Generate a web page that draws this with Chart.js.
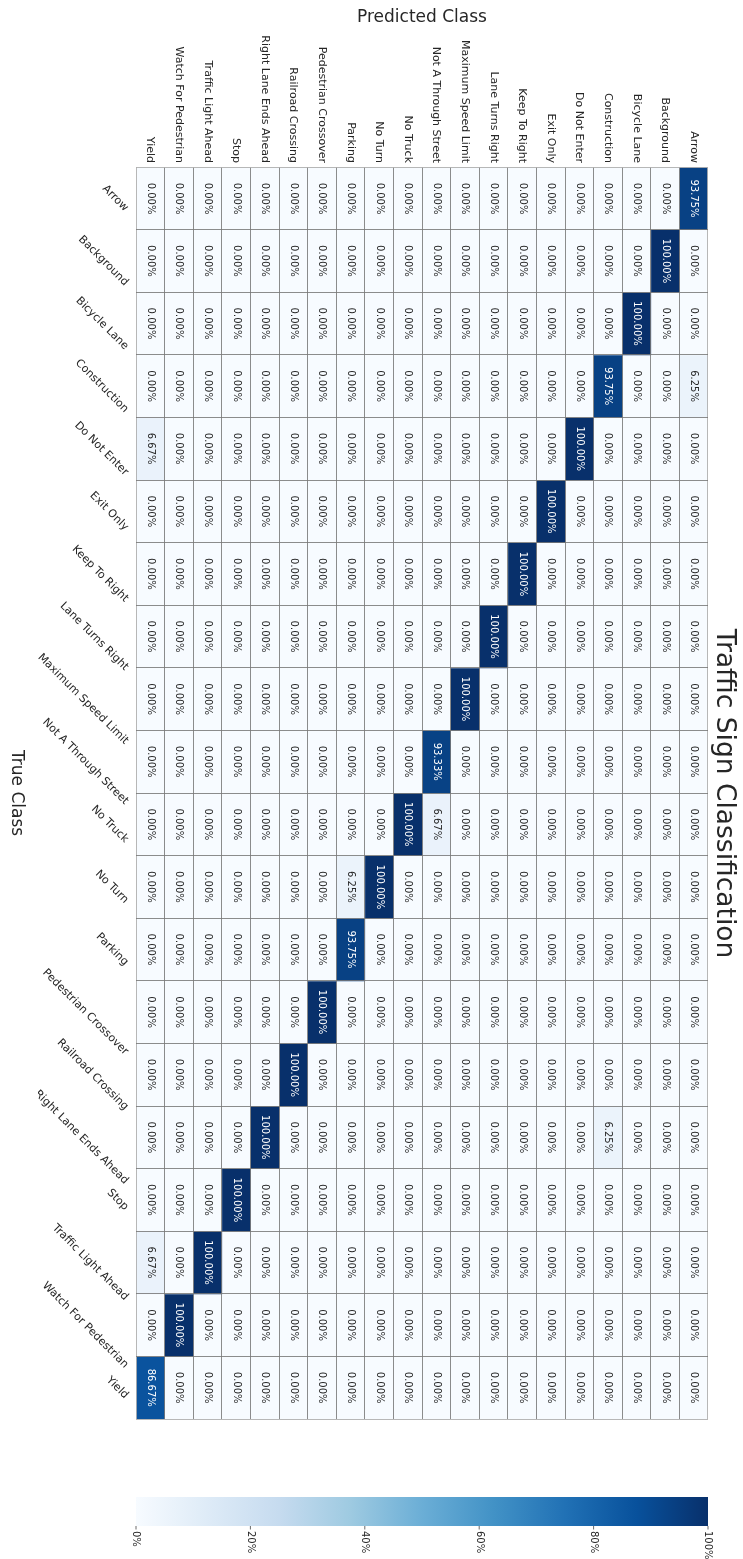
<!DOCTYPE html>
<html>
<head>
<meta charset="utf-8">
<script src="https://cdn.jsdelivr.net/npm/chart.js@4.4.1/dist/chart.umd.min.js"></script>
<style>
  html, body { margin: 0; padding: 0; background: #ffffff; }
  #wrap { position: relative; width: 743px; height: 1559px; overflow: hidden; }
  canvas { position: absolute; left: 0; }
</style>
</head>
<body>
<div id="wrap">
  <canvas id="cm" width="743" height="1480" style="top:0px"></canvas>
  <canvas id="cb" width="743" height="79" style="top:1480px"></canvas>
</div>
<script>
// ---------- DATA ----------
const classes = ['Arrow', 'Background', 'Bicycle Lane', 'Construction', 'Do Not Enter', 'Exit Only',
  'Keep To Right', 'Lane Turns Right', 'Maximum Speed Limit', 'Not A Through Street', 'No Truck',
  'No Turn', 'Parking', 'Pedestrian Crossover', 'Railroad Crossing', 'Right Lane Ends Ahead',
  'Stop', 'Traffic Light Ahead', 'Watch For Pedestrian', 'Yield'];

// one row per true class; values per predicted class (same order as classes), in %
const rowArrow              = [93.75, 0, 0, 0, 0, 0, 0, 0, 0, 0, 0, 0, 0, 0, 0, 0, 0, 0, 0, 0];
const rowBackground         = [0, 100, 0, 0, 0, 0, 0, 0, 0, 0, 0, 0, 0, 0, 0, 0, 0, 0, 0, 0];
const rowBicycleLane        = [0, 0, 100, 0, 0, 0, 0, 0, 0, 0, 0, 0, 0, 0, 0, 0, 0, 0, 0, 0];
const rowConstruction       = [6.25, 0, 0, 93.75, 0, 0, 0, 0, 0, 0, 0, 0, 0, 0, 0, 0, 0, 0, 0, 0];
const rowDoNotEnter         = [0, 0, 0, 0, 100, 0, 0, 0, 0, 0, 0, 0, 0, 0, 0, 0, 0, 0, 0, 6.67];
const rowExitOnly           = [0, 0, 0, 0, 0, 100, 0, 0, 0, 0, 0, 0, 0, 0, 0, 0, 0, 0, 0, 0];
const rowKeepToRight        = [0, 0, 0, 0, 0, 0, 100, 0, 0, 0, 0, 0, 0, 0, 0, 0, 0, 0, 0, 0];
const rowLaneTurnsRight     = [0, 0, 0, 0, 0, 0, 0, 100, 0, 0, 0, 0, 0, 0, 0, 0, 0, 0, 0, 0];
const rowMaxSpeedLimit      = [0, 0, 0, 0, 0, 0, 0, 0, 100, 0, 0, 0, 0, 0, 0, 0, 0, 0, 0, 0];
const rowNotAThroughStreet  = [0, 0, 0, 0, 0, 0, 0, 0, 0, 93.33, 0, 0, 0, 0, 0, 0, 0, 0, 0, 0];
const rowNoTruck            = [0, 0, 0, 0, 0, 0, 0, 0, 0, 6.67, 100, 0, 0, 0, 0, 0, 0, 0, 0, 0];
const rowNoTurn             = [0, 0, 0, 0, 0, 0, 0, 0, 0, 0, 0, 100, 6.25, 0, 0, 0, 0, 0, 0, 0];
const rowParking            = [0, 0, 0, 0, 0, 0, 0, 0, 0, 0, 0, 0, 93.75, 0, 0, 0, 0, 0, 0, 0];
const rowPedCrossover       = [0, 0, 0, 0, 0, 0, 0, 0, 0, 0, 0, 0, 0, 100, 0, 0, 0, 0, 0, 0];
const rowRailroadCrossing   = [0, 0, 0, 0, 0, 0, 0, 0, 0, 0, 0, 0, 0, 0, 100, 0, 0, 0, 0, 0];
const rowRightLaneEnds      = [0, 0, 0, 6.25, 0, 0, 0, 0, 0, 0, 0, 0, 0, 0, 0, 100, 0, 0, 0, 0];
const rowStop               = [0, 0, 0, 0, 0, 0, 0, 0, 0, 0, 0, 0, 0, 0, 0, 0, 100, 0, 0, 0];
const rowTrafficLight       = [0, 0, 0, 0, 0, 0, 0, 0, 0, 0, 0, 0, 0, 0, 0, 0, 0, 100, 0, 6.67];
const rowWatchPedestrian    = [0, 0, 0, 0, 0, 0, 0, 0, 0, 0, 0, 0, 0, 0, 0, 0, 0, 0, 100, 0];
const rowYield              = [0, 0, 0, 0, 0, 0, 0, 0, 0, 0, 0, 0, 0, 0, 0, 0, 0, 0, 0, 86.67];

const matrix = [rowArrow, rowBackground, rowBicycleLane, rowConstruction, rowDoNotEnter, rowExitOnly,
  rowKeepToRight, rowLaneTurnsRight, rowMaxSpeedLimit, rowNotAThroughStreet, rowNoTruck, rowNoTurn,
  rowParking, rowPedCrossover, rowRailroadCrossing, rowRightLaneEnds, rowStop, rowTrafficLight,
  rowWatchPedestrian, rowYield];

const colorbarTicks = [0, 20, 40, 60, 80, 100];
const chartTitle = 'Traffic Sign Classification';
const xTitle = 'Predicted Class';
const yTitle = 'True Class';

// ---------- STYLE ----------
const FONT = '"DejaVu Sans", "Liberation Sans", sans-serif';
const TEXT = '#262626';
const bluesStops = ['#f7fbff', '#deebf7', '#c6dbef', '#9ecae1', '#6baed6', '#4292c6', '#2171b5', '#08519c', '#08306b'];
function hexRgb(h) { return [parseInt(h.substr(1, 2), 16), parseInt(h.substr(3, 2), 16), parseInt(h.substr(5, 2), 16)]; }
const bluesRgb = bluesStops.map(hexRgb);
function bluesArr(t) {
  t = Math.max(0, Math.min(1, t));
  const s = t * 8; const i = Math.min(7, Math.floor(s)); const f = s - i;
  const a = bluesRgb[i], b = bluesRgb[i + 1];
  return [0, 1, 2].map(k => Math.round(a[k] + (b[k] - a[k]) * f));
}
function blues(t) { const c = bluesArr(t); return `rgb(${c[0]},${c[1]},${c[2]})`; }
function textColorFor(v) {
  const c = bluesArr(v / 100).map(x => { x /= 255; return x <= 0.03928 ? x / 12.92 : Math.pow((x + 0.055) / 1.055, 2.4); });
  const lum = 0.2126 * c[0] + 0.7152 * c[1] + 0.0722 * c[2];
  return lum > 0.408 ? TEXT : '#ffffff';
}

const EDGE = 'rgba(175,175,175,0.9)';
const INNER = 'rgba(120,120,120,0.85)';
function gridColor(c) {
  const n = c.scale.ticks.length;
  if (c.type !== 'tick' || c.index === 0) return EDGE;
  if (c.scale.axis === 'y' && c.index === n - 1) return EDGE;
  return INNER;
}

// ---------- HEATMAP ----------
const datasets = matrix.map((row, r) => ({
  label: classes[r],
  data: row.map(() => [r, r + 1]),
  backgroundColor: row.map(v => blues(v / 100)),
  borderWidth: 0
}));

const labelsPlugin = {
  id: 'labelsPlugin',
  afterDraw(chart) {
    const ctx = chart.ctx;
    const xs = chart.scales.x, ys = chart.scales.y;
    ctx.save();
    // cell annotations
    ctx.font = '10px ' + FONT;
    ctx.textAlign = 'center';
    ctx.textBaseline = 'middle';
    chart.data.datasets.forEach((ds, r) => {
      const meta = chart.getDatasetMeta(r);
      meta.data.forEach((el, c) => {
        const v = matrix[r][c];
        const p = el.getCenterPoint();
        ctx.save();
        ctx.translate(p.x, p.y);
        ctx.rotate(Math.PI / 2);
        ctx.fillStyle = textColorFor(v);
        ctx.fillText(v.toFixed(2) + '%', 0, 0);
        ctx.restore();
      });
    });
    // predicted class labels (top)
    ctx.font = '11px ' + FONT;
    ctx.fillStyle = TEXT;
    classes.forEach((name, i) => {
      const px = xs.getPixelForValue(i);
      ctx.save();
      ctx.translate(px, ys.top - 4);
      ctx.rotate(Math.PI / 2);
      ctx.textAlign = 'right';
      ctx.textBaseline = 'middle';
      ctx.fillText(name, 0, 0);
      ctx.restore();
    });
    // true class labels (left, 45 deg), clipped like the reference's label area
    ctx.save();
    ctx.beginPath();
    ctx.rect(38, 0, xs.left - 38, chart.height);
    ctx.clip();
    classes.forEach((name, r) => {
      const py = ys.getPixelForValue(r + 0.5);
      const w = ctx.measureText(name).width;
      ctx.save();
      ctx.translate(xs.left - 9.5, py + 0.3536 * w);
      ctx.rotate(Math.PI / 4);
      ctx.textAlign = 'right';
      ctx.textBaseline = 'middle';
      ctx.fillText(name, 0, 0);
      ctx.restore();
    });
    ctx.restore();
    // axis titles
    const cx = (xs.left + xs.right) / 2;
    const cy = (ys.top + ys.bottom) / 2;
    ctx.font = '17px ' + FONT;
    ctx.fillStyle = TEXT;
    ctx.textAlign = 'center';
    ctx.textBaseline = 'alphabetic';
    ctx.fillText(xTitle, cx, 21.5);
    ctx.save();
    ctx.translate(11.5, cy);
    ctx.rotate(Math.PI / 2);
    ctx.fillText(yTitle, 0, 0);
    ctx.restore();
    // chart title (right, rotated)
    ctx.font = '26.5px ' + FONT;
    ctx.save();
    ctx.translate(717, cy + 0.5);
    ctx.rotate(Math.PI / 2);
    ctx.fillText(chartTitle, 0, 0);
    ctx.restore();
    ctx.restore();
  }
};

new Chart(document.getElementById('cm'), {
  type: 'bar',
  data: { labels: classes, datasets },
  options: {
    responsive: false,
    animation: false,
    devicePixelRatio: 1,
    layout: { padding: { left: 136, right: 35, top: 167, bottom: 61 } },
    plugins: { legend: { display: false }, tooltip: { enabled: false }, title: { display: false } },
    datasets: { bar: { barPercentage: 1, categoryPercentage: 1, grouped: false } },
    scales: {
      x: {
        type: 'category', reverse: true, offset: true,
        grid: { offset: true, drawTicks: false, color: gridColor, lineWidth: 1, z: 1 },
        border: { display: false },
        ticks: { display: false }
      },
      y: {
        type: 'linear', min: 0, max: 20, reverse: true,
        grid: { drawTicks: false, color: gridColor, lineWidth: 1, z: 1 },
        border: { display: false },
        ticks: { display: false, stepSize: 1, maxTicksLimit: 30 }
      }
    }
  },
  plugins: [labelsPlugin]
});

// ---------- COLORBAR ----------
function cbGradient(ctx) {
  const a = ctx.chart.chartArea;
  if (!a) return bluesStops[0];
  const g = ctx.chart.ctx.createLinearGradient(a.left, 0, a.right, 0);
  bluesStops.forEach((c, i) => g.addColorStop(i / 8, c));
  return g;
}

const cbTicksPlugin = {
  id: 'cbTicks',
  afterDraw(chart) {
    const ctx = chart.ctx;
    const xs = chart.scales.x;
    const bottom = chart.chartArea.bottom;
    ctx.save();
    ctx.strokeStyle = '#444';
    ctx.lineWidth = 0.8;
    ctx.fillStyle = TEXT;
    ctx.font = '10px ' + FONT;
    colorbarTicks.forEach(v => {
      const px = xs.getPixelForValue(v);
      ctx.beginPath();
      ctx.moveTo(px, bottom);
      ctx.lineTo(px, bottom + 3.5);
      ctx.stroke();
      ctx.save();
      ctx.translate(px, bottom + 5);
      ctx.rotate(Math.PI / 2);
      ctx.textAlign = 'left';
      ctx.textBaseline = 'middle';
      ctx.fillText(v + '%', 0, 0);
      ctx.restore();
    });
    ctx.restore();
  }
};

new Chart(document.getElementById('cb'), {
  type: 'bar',
  data: { labels: [''], datasets: [{ data: [[0, 100]], backgroundColor: cbGradient, borderWidth: 0 }] },
  options: {
    indexAxis: 'y',
    responsive: false,
    animation: false,
    devicePixelRatio: 1,
    layout: { padding: { left: 136, right: 35, top: 17, bottom: 33 } },
    plugins: { legend: { display: false }, tooltip: { enabled: false } },
    datasets: { bar: { barPercentage: 1, categoryPercentage: 1 } },
    scales: {
      x: { type: 'linear', min: 0, max: 100, display: false },
      y: { type: 'category', display: false }
    }
  },
  plugins: [cbTicksPlugin]
});
</script>
</body>
</html>
